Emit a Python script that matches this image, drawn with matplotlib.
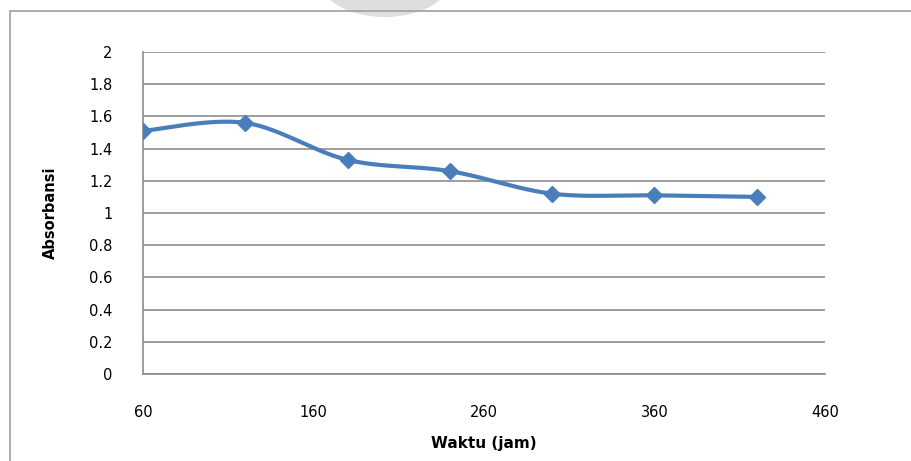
import numpy as np
import matplotlib.pyplot as plt
from matplotlib.patches import Rectangle, Ellipse

# data
waktu = [60, 120, 180, 240, 300, 360, 420]
absorbansi = [1.51, 1.56, 1.33, 1.26, 1.12, 1.11, 1.10]

x_ticks = [60, 160, 260, 360, 460]
y_ticks = [0, 0.2, 0.4, 0.6, 0.8, 1, 1.2, 1.4, 1.6, 1.8, 2]
y_labels = ["0", "0.2", "0.4", "0.6", "0.8", "1", "1.2", "1.4", "1.6", "1.8", "2"]


def smooth_curve(xs, ys, n=30):
    # Excel-like smoothed line: cubic bezier with catmull-rom control points
    p = np.column_stack([xs, ys]).astype(float)
    pts = [p[0]]
    for i in range(len(p) - 1):
        p0 = p[i - 1] if i > 0 else p[i]
        p3 = p[i + 2] if i + 2 < len(p) else p[i + 1]
        c1 = p[i] + (p[i + 1] - p0) / 6
        c2 = p[i + 1] - (p3 - p[i]) / 6
        t = np.linspace(0, 1, n)[1:, None]
        seg = ((1 - t) ** 3 * p[i] + 3 * (1 - t) ** 2 * t * c1
               + 3 * (1 - t) * t ** 2 * c2 + t ** 3 * p[i + 1])
        pts.extend(seg)
    pts = np.array(pts)
    return pts[:, 0], pts[:, 1]


fig = plt.figure(figsize=(9.12, 4.61), dpi=100)
ax = fig.add_axes([0.1568, 0.1887, 0.7478, 0.6985])

# outer chart frame and faint watermark blob at the top
fig.patches.append(Ellipse((385 / 912, 1 + 20 / 461), 130 / 912, 74 / 461,
                           transform=fig.transFigure, facecolor="#dedede",
                           edgecolor="none"))
fig.patches.append(Rectangle((10 / 912, -0.05), 1.0, 1 - 11 / 461 + 0.05,
                             transform=fig.transFigure, fill=False,
                             edgecolor="#a0a0a0", linewidth=1.2))

sx, sy = smooth_curve(waktu, absorbansi)
ax.plot(sx, sy, color="#4A7EBB", linewidth=3, solid_capstyle="round", zorder=3)
ax.plot(waktu, absorbansi, linestyle="none", marker="D", markersize=8,
        color="#4A7EBB", zorder=4)

ax.set_xlim(60, 460)
ax.set_ylim(0, 2)
ax.set_xticks(x_ticks)
ax.set_yticks(y_ticks)
ax.set_yticklabels(y_labels)
ax.tick_params(axis="x", length=0, pad=22, labelsize=10.5)
ax.tick_params(axis="y", length=0, pad=22, labelsize=10.5)

ax.grid(axis="y", color="#8c8c8c", linewidth=1.2)
ax.set_axisbelow(True)
for side in ["top", "right"]:
    ax.spines[side].set_visible(False)
for side in ["left", "bottom"]:
    ax.spines[side].set_color("#8c8c8c")
    ax.spines[side].set_linewidth(1.2)

ax.set_xlabel("Waktu (jam)", fontsize=11, fontweight="bold", labelpad=12)
ax.set_ylabel("Absorbansi", fontsize=10.5, fontweight="bold", labelpad=22)

fig.savefig("out.png", dpi=100)
